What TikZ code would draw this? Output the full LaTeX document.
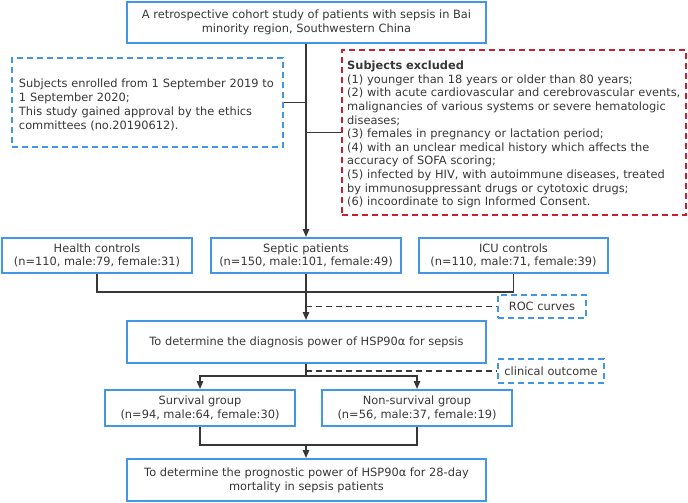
\documentclass[tikz,border=0pt]{standalone}
\usepackage{fontspec}
\setmainfont{DejaVu Sans}
\usetikzlibrary{arrows.meta}
\definecolor{boxblue}{RGB}{66,150,230}
\definecolor{exred}{RGB}{200,30,45}
\definecolor{ink}{RGB}{55,55,55}
\begin{document}
\begin{tikzpicture}[x=1pt,y=-1pt,
  every node/.style={font=\fontsize{11.4}{13.8}\selectfont, text=ink},
  bluebox/.style={draw=boxblue, line width=2pt, rectangle, inner sep=0pt, align=center},
  dashblue/.style={draw=boxblue, line width=2pt, dash pattern=on 6pt off 4pt, rectangle, inner sep=0pt},
  dashred/.style={draw=exred, line width=2pt, dash pattern=on 6pt off 4pt, rectangle, inner sep=0pt},
  conn/.style={draw=ink, line width=1.4pt},
  arr/.style={conn, -{Triangle[width=6.5pt,length=8pt]}},
  dconn/.style={draw=ink, line width=1.4pt, dash pattern=on 6pt off 4pt}]
\useasboundingbox (0,0) rectangle (688,503);

\node[bluebox, minimum width=359pt, minimum height=41pt] (top) at (306.5,22.5)
  {A retrospective cohort study of patients with sepsis in Bai\\minority region, Southwestern China};

\node[dashblue, minimum width=271pt, minimum height=89pt] (enr) at (147.5,102.5) {};
\node[text width=257pt, align=left, inner sep=0pt, yshift=-2pt,
  font=\fontsize{11.4}{14}\selectfont] (enrtext) at (enr.center)
  {Subjects enrolled from 1 September 2019 to\\1 September 2020;\\This study gained approval by the ethics\\committees (no.20190612).};

\node[dashred, minimum width=344pt, minimum height=165pt] (exc) at (514,132.5) {};
\node[text width=350pt, align=left, inner sep=0pt, yshift=-2pt, anchor=west,
  font=\fontsize{11.4}{13.6}\selectfont] (exctext) at (exc.west)
  {\hspace*{6pt}\textbf{Subjects excluded}\\
  \hspace*{6pt}(1) younger than 18 years or older than 80 years;\\
  \hspace*{6pt}(2) with acute cardiovascular and cerebrovascular events,\\
  \hspace*{6pt}malignancies of various systems or severe hematologic\\
  \hspace*{6pt}diseases;\\
  \hspace*{6pt}(3) females in pregnancy or lactation period;\\
  \hspace*{6pt}(4) with an unclear medical history which affects the\\
  \hspace*{6pt}accuracy of SOFA scoring;\\
  \hspace*{6pt}(5) infected by HIV, with autoimmune diseases, treated\\
  \hspace*{6pt}by immunosuppressant drugs or cytotoxic drugs;\\
  \hspace*{6pt}(6) incoordinate to sign Informed Consent.};

\node[bluebox, minimum width=190pt, minimum height=35pt] (hc) at (97,255.5)
  {Health controls\\(n=110, male:79, female:31)};
\node[bluebox, minimum width=190pt, minimum height=35pt] (sp) at (306,255.5)
  {Septic patients\\(n=150, male:101, female:49)};
\node[bluebox, minimum width=189pt, minimum height=35pt] (icu) at (513.5,255.5)
  {ICU controls\\(n=110, male:71, female:39)};

\node[dashblue, minimum width=88pt, minimum height=23pt] (roc) at (542,306.5) {ROC curves};

\node[bluebox, minimum width=359pt, minimum height=42pt] (diag) at (306.5,342)
  {To determine the diagnosis power of HSP90α for sepsis};

\node[dashblue, minimum width=106pt, minimum height=24pt] (clin) at (551,371) {clinical outcome};

\node[bluebox, minimum width=190pt, minimum height=36pt] (sv) at (200,408)
  {Survival group\\(n=94, male:64, female:30)};
\node[bluebox, minimum width=190pt, minimum height=36pt] (ns) at (417,408)
  {Non-survival group\\(n=56, male:37, female:19)};

\node[bluebox, minimum width=359pt, minimum height=42pt] (prog) at (306.5,480)
  {To determine the prognostic power of HSP90α for 28-day\\mortality in sepsis patients};

\coordinate (j1) at (306,292);
\coordinate (j2) at (306,376);
\coordinate (j3) at (306,445);

\draw[arr] (top.south -| sp.north) -- (sp.north);
\draw[conn] (enr.east) -- (enr.east -| sp.north);
\draw[conn] (exc.west) -- (exc.west -| sp.north);

\draw[conn] (hc.south) |- (j1) -| (icu.south);
\draw[arr] (sp.south) -- (sp.south |- diag.north);
\draw[dconn] (sp.south |- roc.west) -- (roc.west);

\draw[conn] (diag.south -| j2) -- (j2);
\draw[arr] (j2) -| (sv.north);
\draw[arr] (j2) -| (ns.north);
\draw[dconn] (306,371) -- (clin.west);

\draw[conn] (sv.south) |- (j3) -| (ns.south);
\draw[arr] (j3) -- (j3 |- prog.north);
\end{tikzpicture}
\end{document}
